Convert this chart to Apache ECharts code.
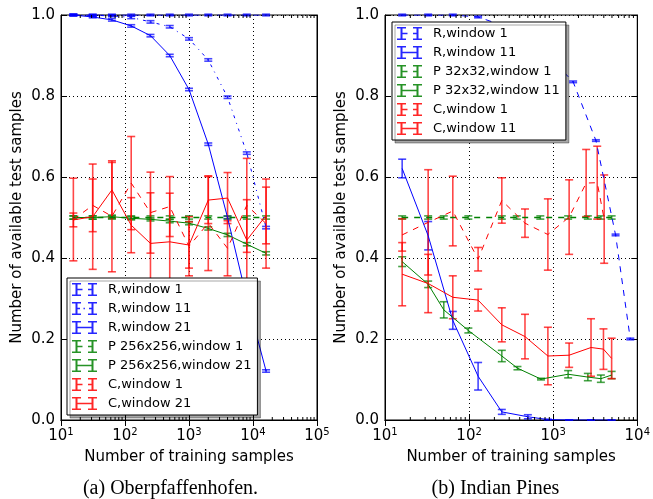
<!DOCTYPE html>
<html><head><meta charset="utf-8">
<script src="https://cdn.jsdelivr.net/npm/echarts@6/dist/echarts.min.js"></script>
<style>html,body{margin:0;padding:0;background:#fff}#c{width:653px;height:499px}</style>
</head><body><div id="c"></div>
<script>
// ---------- data: (a) Oberpfaffenhofen ----------
const leftX = [15.6, 31.3, 62.5, 125, 250, 500, 1000, 2000, 4000, 8000, 16000];
const leftR1 = [1.0, 1.0, 1.0, 1.0, 1.0, 1.0, 1.0, 1.0, 1.0, 1.0, 1.0];
const leftR1Err = [0.002, 0.002, 0.002, 0.002, 0.002, 0.002, 0.002, 0.002, 0.002, 0.002, 0.002];
const leftR11 = [1.0, 0.999, 0.998, 0.994, 0.983, 0.971, 0.941, 0.889, 0.797, 0.659, 0.475];
const leftR11Err = [0.002, 0.002, 0.002, 0.003, 0.003, 0.003, 0.003, 0.003, 0.003, 0.003, 0.003];
const leftR21 = [1.0, 0.995, 0.988, 0.973, 0.949, 0.900, 0.816, 0.681, 0.500, 0.300, 0.121];
const leftR21Err = [0.002, 0.002, 0.003, 0.003, 0.003, 0.003, 0.003, 0.003, 0.003, 0.003, 0.003];
const leftP1 = [0.5, 0.5, 0.5, 0.5, 0.5, 0.5, 0.5, 0.5, 0.5, 0.5, 0.5];
const leftP1Err = [0.004, 0.004, 0.004, 0.004, 0.004, 0.004, 0.004, 0.004, 0.004, 0.004, 0.004];
const leftP21 = [0.500, 0.500, 0.502, 0.498, 0.4955, 0.491, 0.486, 0.473, 0.457, 0.434, 0.4115];
const leftP21Err = [0.004, 0.004, 0.004, 0.004, 0.004, 0.004, 0.004, 0.004, 0.004, 0.004, 0.004];
const leftC1 = [0.495, 0.530, 0.503, 0.585, 0.512, 0.527, 0.429, 0.486, 0.424, 0.530, 0.485];
const leftC1Err = [0.102, 0.065, 0.137, 0.115, 0.100, 0.074, 0.073, 0.117, 0.068, 0.116, 0.110];
const leftC21 = [0.494, 0.502, 0.568, 0.481, 0.436, 0.440, 0.432, 0.543, 0.548, 0.444, 0.505];
const leftC21Err = [0.017, 0.130, 0.068, 0.068, 0.125, 0.120, 0.057, 0.058, 0.063, 0.100, 0.070];

// ---------- data: (b) Indian Pines ----------
const rightR1X = [16, 32.6, 64, 128, 245, 462, 865, 1726, 3222, 5520, 8260];
const rightR1 = [1.0, 1.0, 1.0, 0.995, 0.975, 0.945, 0.900, 0.835, 0.690, 0.457, 0.200];
const rightR1Err = [0.002, 0.002, 0.002, 0.002, 0.002, 0.002, 0.002, 0.002, 0.002, 0.002, 0.002];
const rightR11X = [16, 32.6, 64, 128, 245, 500, 865, 1548, 2818, 4955];
const rightR11 = [0.621, 0.455, 0.246, 0.108, 0.020, 0.008, 0.001, 0.0, 0.0, 0.0];
const rightR11Err = [0.023, 0.035, 0.022, 0.034, 0.006, 0.005, 0.001, 0.0, 0.0, 0.0];
const rightP1X = [16, 32.6, 50, 98, 245, 369, 703, 1506, 2584, 3690, 4955];
const rightP1 = [0.5, 0.5, 0.5, 0.5, 0.5, 0.5, 0.5, 0.5, 0.5, 0.5, 0.5];
const rightP1Err = [0.004, 0.004, 0.004, 0.004, 0.004, 0.004, 0.004, 0.004, 0.004, 0.004, 0.004];
const rightP11X = [16, 32.6, 50, 98, 245, 376, 716, 1506, 2584, 3690, 4955];
const rightP11 = [0.391, 0.335, 0.272, 0.221, 0.158, 0.128, 0.101, 0.113, 0.106, 0.102, 0.111];
const rightP11Err = [0.012, 0.008, 0.020, 0.006, 0.014, 0.004, 0.002, 0.009, 0.009, 0.009, 0.009];
const rightC1X = [16, 32.6, 64, 128, 245, 462, 865, 1548, 2466, 3340, 4040];
const rightC1 = [0.457, 0.488, 0.516, 0.397, 0.542, 0.486, 0.458, 0.501, 0.585, 0.586, 0.496];
const rightC1Err = [0.040, 0.130, 0.086, 0.029, 0.056, 0.035, 0.088, 0.092, 0.083, 0.090, 0.109];
const rightC11X = [16, 32.6, 64, 128, 245, 462, 865, 1548, 2818, 3962, 4955];
const rightC11 = [0.360, 0.337, 0.303, 0.296, 0.235, 0.206, 0.158, 0.160, 0.179, 0.175, 0.152];
const rightC11Err = [0.078, 0.072, 0.053, 0.027, 0.042, 0.055, 0.071, 0.030, 0.071, 0.050, 0.050];

// ---------- tick values ----------
const yTicks = [0, 0.2, 0.4, 0.6, 0.8, 1.0];
const leftMinor = [];
const rightMinor = [];
[10, 100, 1000, 10000].forEach(d => { for (let k = 2; k <= 9; k++) leftMinor.push(k * d); });
[10, 100, 1000].forEach(d => { for (let k = 2; k <= 9; k++) rightMinor.push(k * d); });

// ---------- styling ----------
const FONT = 'DejaVu Sans';
const BLUE = '#0000ff', GREEN = '#008000', RED = '#ff0000';
const DASH = [6, 6], DASHDOT = [3, 5, 1, 5];

function errRender(color) {
  return function (params, api) {
    const x = api.value(0), y = api.value(1), e = api.value(2);
    const lo = api.coord([x, y - e]), hi = api.coord([x, y + e]);
    const hw = 4;
    const st = { stroke: color, lineWidth: 1.6, opacity: 0.72 };
    return { type: 'group', children: [
      { type: 'line', shape: { x1: lo[0], y1: lo[1], x2: hi[0], y2: hi[1] }, style: st },
      { type: 'line', shape: { x1: lo[0] - hw, y1: lo[1], x2: lo[0] + hw, y2: lo[1] }, style: st },
      { type: 'line', shape: { x1: hi[0] - hw, y1: hi[1], x2: hi[0] + hw, y2: hi[1] }, style: st }
    ]};
  };
}

const series = [];
function addSeries(gi, name, xs, ys, errs, color, dash, width) {
  series.push({
    type: 'line', name: name, xAxisIndex: gi * 2, yAxisIndex: gi * 2,
    data: xs.map((x, i) => [x, ys[i]]), showSymbol: false, symbol: 'none',
    color: color, lineStyle: { color: color, width: width, type: dash }, z: 3, silent: true
  });
  series.push({
    type: 'custom', name: name, xAxisIndex: gi * 2, yAxisIndex: gi * 2,
    dimensions: ['x', 'y', 'e'], encode: { x: 0, y: 1 },
    data: xs.map((x, i) => [x, ys[i], errs[i]]), color: color,
    itemStyle: { color: color }, renderItem: errRender(color), z: 3, silent: true
  });
}
addSeries(0, 'R,window 1', leftX, leftR1, leftR1Err, BLUE, DASH, 1);
addSeries(0, 'R,window 11', leftX, leftR11, leftR11Err, BLUE, DASHDOT, 1);
addSeries(0, 'R,window 21', leftX, leftR21, leftR21Err, BLUE, 'solid', 1);
addSeries(0, 'P 256x256,window 1', leftX, leftP1, leftP1Err, GREEN, DASH, 1.5);
addSeries(0, 'P 256x256,window 21', leftX, leftP21, leftP21Err, GREEN, 'solid', 1);
addSeries(0, 'C,window 1', leftX, leftC1, leftC1Err, RED, DASH, 1);
addSeries(0, 'C,window 21', leftX, leftC21, leftC21Err, RED, 'solid', 1);

addSeries(1, 'R,window 1', rightR1X, rightR1, rightR1Err, BLUE, DASH, 1);
addSeries(1, 'R,window 11', rightR11X, rightR11, rightR11Err, BLUE, 'solid', 1);
addSeries(1, 'P 32x32,window 1', rightP1X, rightP1, rightP1Err, GREEN, DASH, 1.5);
addSeries(1, 'P 32x32,window 11', rightP11X, rightP11, rightP11Err, GREEN, 'solid', 1);
addSeries(1, 'C,window 1', rightC1X, rightC1, rightC1Err, RED, DASH, 1);
addSeries(1, 'C,window 11', rightC11X, rightC11, rightC11Err, RED, 'solid', 1);

// minor ticks on log axes (bottom and top spines)
function minorRender(params, api) {
  const v = api.value(0);
  const b = api.coord([v, 0]), t = api.coord([v, 1]);
  const st = { stroke: '#000', lineWidth: 1 };
  return { type: 'group', children: [
    { type: 'line', shape: { x1: b[0], y1: b[1], x2: b[0], y2: b[1] - 3 }, style: st },
    { type: 'line', shape: { x1: t[0], y1: t[1], x2: t[0], y2: t[1] + 3 }, style: st }
  ]};
}
series.push({ type: 'custom', xAxisIndex: 0, yAxisIndex: 0, data: leftMinor.map(v => [v, 0]),
  encode: { x: 0, y: 1 }, renderItem: minorRender, z: 5, silent: true });
series.push({ type: 'custom', xAxisIndex: 2, yAxisIndex: 2, data: rightMinor.map(v => [v, 0]),
  encode: { x: 0, y: 1 }, renderItem: minorRender, z: 5, silent: true });

// ---------- legend icons ----------
function rect(x, y, w, h) { return 'M' + x + ',' + y + 'L' + (x + w) + ',' + y + 'L' + (x + w) + ',' + (y + h) + 'L' + x + ',' + (y + h) + 'Z'; }
function icon(kind) {
  let p = rect(3.5, 0, 2, 13) + rect(0, 0, 9, 1.6) + rect(0, 11.4, 9, 1.6)
        + rect(19.5, 0, 2, 13) + rect(16, 0, 9, 1.6) + rect(16, 11.4, 9, 1.6);
  if (kind === 'solid') p += rect(4.5, 5.8, 16, 1.4);
  else if (kind === 'dash') p += rect(4.5, 5.8, 6, 1.4) + rect(16, 5.8, 4.5, 1.4);
  else p += rect(4.5, 5.8, 3.5, 1.4) + rect(11.5, 5.8, 1.4, 1.4) + rect(17, 5.8, 3.5, 1.4);
  return 'path://' + p;
}
function legendBase(left, top, items) {
  return {
    show: true, orient: 'vertical', left: left, top: top, selectedMode: false,
    data: items.map(it => ({ name: it[0], icon: icon(it[1]) })),
    itemWidth: 25, itemHeight: 13, itemGap: 6, padding: [5, 6, 5, 5],
    itemStyle: { borderWidth: 0, opacity: 0.85 },
    textStyle: { fontFamily: FONT, fontSize: 13, color: '#000', padding: [0, 0, 0, 6] },
    backgroundColor: '#fff', borderColor: '#000', borderWidth: 1, borderRadius: 0,
    shadowColor: 'rgba(0,0,0,0.35)', shadowBlur: 0, shadowOffsetX: 3, shadowOffsetY: 3, z: 10
  };
}
const legends = [
  legendBase(67, 278, [['R,window 1', 'dash'], ['R,window 11', 'dashdot'], ['R,window 21', 'solid'],
    ['P 256x256,window 1', 'dash'], ['P 256x256,window 21', 'solid'], ['C,window 1', 'dash'], ['C,window 21', 'solid']]),
  legendBase(392, 22, [['R,window 1', 'dash'], ['R,window 11', 'solid'], ['P 32x32,window 1', 'dash'],
    ['P 32x32,window 11', 'solid'], ['C,window 1', 'dash'], ['C,window 11', 'solid']])
];

// ---------- axes ----------
const lineBlack = { lineStyle: { color: '#000', width: 1 } };
const dotted = { show: true, lineStyle: { color: '#000', width: 1, type: [1, 3] } };
function xAxesFor(gi, max) {
  return [{
    type: 'log', logBase: 10, gridIndex: gi, min: 10, max: max, position: 'bottom',
    axisLine: Object.assign({ show: true }, lineBlack),
    axisTick: { show: true, inside: true, length: 6, lineStyle: { color: '#000' } },
    axisLabel: { margin: 7, color: '#000', fontFamily: FONT, fontSize: 15,
      formatter: v => '10{s|' + Math.round(Math.log10(v)) + '}',
      rich: { s: { fontSize: 10, fontFamily: FONT, color: '#000', verticalAlign: 'top', padding: [0, 0, 8, 0] } } },
    splitLine: dotted,
    name: 'Number of training samples', nameLocation: 'middle', nameGap: 30,
    nameTextStyle: { fontSize: 15, fontFamily: FONT, color: '#000' }
  }, {
    type: 'log', logBase: 10, gridIndex: gi, min: 10, max: max, position: 'top',
    axisLine: Object.assign({ show: true }, lineBlack),
    axisTick: { show: true, inside: true, length: 6, lineStyle: { color: '#000' } },
    axisLabel: { show: false }, splitLine: { show: false }
  }];
}
function yAxesFor(gi) {
  return [{
    type: 'value', gridIndex: gi, min: yTicks[0], max: yTicks[yTicks.length - 1], interval: 0.2,
    axisLine: Object.assign({ show: true }, lineBlack),
    axisTick: { show: true, inside: true, length: 6, lineStyle: { color: '#000' } },
    axisLabel: { margin: 6, color: '#000', fontFamily: FONT, fontSize: 15, formatter: v => v.toFixed(1) },
    splitLine: dotted,
    name: 'Number of available test samples', nameLocation: 'middle', nameGap: 36, nameRotate: 90,
    nameTextStyle: { fontSize: 15, fontFamily: FONT, color: '#000' }
  }, {
    type: 'value', gridIndex: gi, min: 0, max: 1, interval: 0.2, position: 'right',
    axisLine: Object.assign({ show: true }, lineBlack),
    axisTick: { show: true, inside: true, length: 6, lineStyle: { color: '#000' } },
    axisLabel: { show: false }, splitLine: { show: false }
  }];
}

const xA = xAxesFor(0, 100000), xB = xAxesFor(1, 10000);
const yA = yAxesFor(0), yB = yAxesFor(1);

const option = {
  animation: false,
  backgroundColor: '#fff',
  grid: [
    { left: 61, right: 336, top: 15, bottom: 79, show: true, borderColor: '#000', borderWidth: 1, backgroundColor: 'transparent' },
    { left: 385, right: 11, top: 15, bottom: 79, show: true, borderColor: '#000', borderWidth: 1, backgroundColor: 'transparent' }
  ],
  xAxis: [xA[0], xA[1], xB[0], xB[1]],
  yAxis: [yA[0], yA[1], yB[0], yB[1]],
  legend: legends,
  series: series,
  graphic: [
    { type: 'text', x: 170.5, y: 489, style: { text: '(a) Oberpfaffenhofen.', align: 'center', verticalAlign: 'middle', textAlign: 'center', textVerticalAlign: 'middle', font: '20px "Liberation Serif"', fill: '#000' } },
    { type: 'text', x: 495.5, y: 489, style: { text: '(b) Indian Pines', align: 'center', verticalAlign: 'middle', textAlign: 'center', textVerticalAlign: 'middle', font: '20px "Liberation Serif"', fill: '#000' } }
  ]
};
const chart = echarts.init(document.getElementById('c'), null, { renderer: 'canvas' });
chart.setOption(option);
</script></body></html>
